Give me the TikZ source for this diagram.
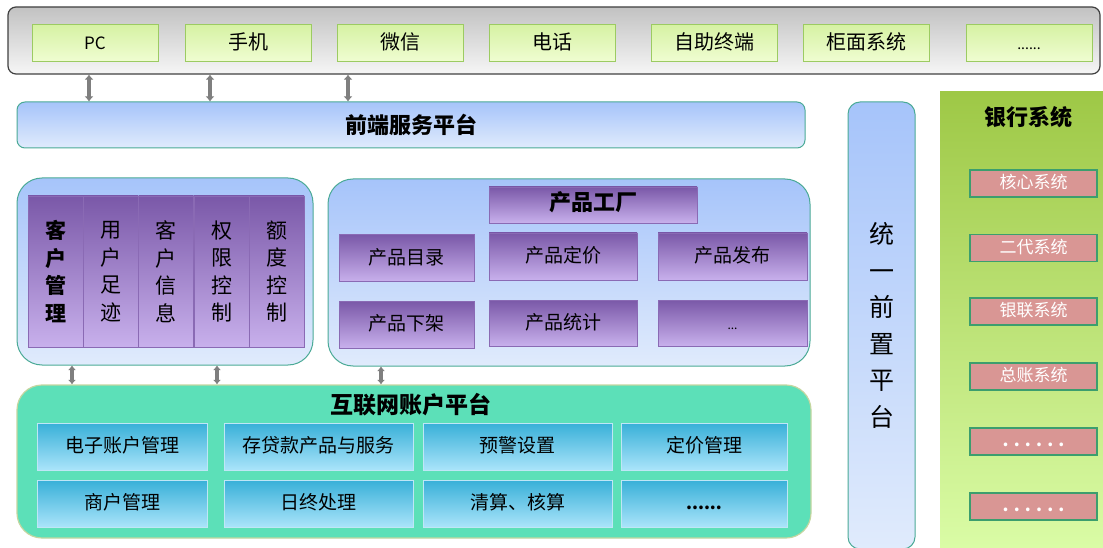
\documentclass[tikz,border=0pt]{standalone}
\usepackage{fontspec}
\setmainfont{Noto Sans CJK SC}
\usetikzlibrary{arrows.meta}
\definecolor{bartop}{HTML}{C2C2C2}
\definecolor{barbot}{HTML}{F6F6F6}
\definecolor{chantop}{HTML}{D6F2A4}
\definecolor{chanbot}{HTML}{F0FDD2}
\definecolor{chanline}{HTML}{9CCB62}
\definecolor{bluetop}{HTML}{A6C4FA}
\definecolor{bluebot}{HTML}{E0EBFC}
\definecolor{tealline}{HTML}{4AAA96}
\definecolor{purtop}{HTML}{7A58A8}
\definecolor{purbot}{HTML}{C8B0EC}
\definecolor{purline}{HTML}{8A6AB4}
\definecolor{minttop}{HTML}{5CE0B8}
\definecolor{mintline}{HTML}{C4D6A0}
\definecolor{cyantop}{HTML}{38B0D8}
\definecolor{cyanbot}{HTML}{AAE4FA}
\definecolor{cyanline}{HTML}{BFE6F6}
\definecolor{banktop}{HTML}{9EC846}
\definecolor{bankbot}{HTML}{DAFCA6}
\definecolor{sysfill}{HTML}{D99694}
\definecolor{sysline}{HTML}{3C9E6E}
\definecolor{linkgray}{HTML}{7F7F7F}
\begin{document}
\begin{tikzpicture}[x=1pt,y=-1pt,
  chan/.style={draw=chanline,line width=1pt,top color=chantop,bottom color=chanbot,
    minimum width=126pt,minimum height=37pt,inner sep=0pt,text height=15pt,text depth=3pt,
    font=\fontsize{20}{24}\selectfont},
  panel/.style={draw=tealline,line width=1pt,top color=bluetop,bottom color=bluebot,inner sep=0pt},
  purbox/.style={draw=purline,line width=.8pt,top color=purtop,bottom color=purbot,inner sep=0pt,
    text height=15pt,text depth=3pt,font=\fontsize{19}{23}\selectfont},
  col/.style={draw=purline,line width=.8pt,top color=purtop,bottom color=purbot,inner sep=0pt,
    minimum width=55pt,minimum height=151pt,align=center,font=\fontsize{21}{27.5}\selectfont},
  cyanbox/.style={draw=cyanline,line width=.8pt,top color=cyantop,bottom color=cyanbot,
    minimum height=47pt,inner sep=0pt,text height=15pt,text depth=3pt,font=\fontsize{19}{23}\selectfont},
  sys/.style={draw=sysline,line width=1.2pt,fill=sysfill,text=white,minimum width=127pt,
    minimum height=27pt,inner sep=0pt,text height=13pt,text depth=3pt,font=\fontsize{17}{20}\selectfont},
  title/.style={font=\fontsize{22}{26}\selectfont\bfseries},
  link/.style={draw=linkgray,line width=4.5pt,{Latex[length=5pt,width=9pt]}-{Latex[length=5pt,width=9pt]}},
  shortlink/.style={draw=linkgray,line width=4pt,{Latex[length=4.5pt,width=8pt]}-{Latex[length=4.5pt,width=8pt]}}]
\useasboundingbox (0,0) rectangle (1103,548);
% channels
\node[draw=black!75,line width=1.2pt,rounded corners=8pt,top color=bartop,bottom color=barbot,
  minimum width=1092pt,minimum height=67pt,inner sep=0pt] (bar) at (554,40.5) {};
\node[chan,font=\fontsize{17}{20}\selectfont] (pc) at (95,43.5) {PC};
\node[chan] (phone) at (248,43.5) {手机};
\node[chan] (wechat) at (400,43.5) {微信};
\node[chan] (tel) at (552,43.5) {电话};
\node[chan] (atm) at (714,43.5) {自助终端};
\node[chan] (counter) at (866,43.5) {柜面系统};
\node[chan,font=\fontsize{14}{16}\selectfont] (chanmore) at (1029,43.5) {......};
% front platform
\node[panel,rounded corners=8pt,minimum width=788pt,minimum height=46pt,title] (front) at (411,125) {前端服务平台};
\draw[link] (89,0 |- bar.south) -- (89,0 |- front.north);
\draw[link] (210,0 |- bar.south) -- (210,0 |- front.north);
\draw[link] (348,0 |- bar.south) -- (348,0 |- front.north);
% customer management
\node[panel,rounded corners=25pt,minimum width=296pt,minimum height=187pt] (cust) at (165,271.5) {};
\node[col,font=\fontsize{21}{27.5}\selectfont\bfseries] (c1) at (55.5,271.5) {客\\户\\管\\理};
\node[col] (c2) at (110.5,271.5) {用\\户\\足\\迹};
\node[col] (c3) at (166,271.5) {客\\户\\信\\息};
\node[col] (c4) at (221.5,271.5) {权\\限\\控\\制};
\node[col] (c5) at (276.5,271.5) {额\\度\\控\\制};
% product factory
\node[panel,rounded corners=25pt,minimum width=482pt,minimum height=187pt] (prod) at (569,272.5) {};
\node[purbox,title,minimum width=208pt,minimum height=36pt] (factory) at (593,205) {产品工厂};
\node[purbox,minimum width=135pt,minimum height=47pt] (catalog) at (406.5,258) {产品目录};
\node[purbox,minimum width=148pt,minimum height=47pt] (pricing) at (563,256.5) {产品定价};
\node[purbox,minimum width=149pt,minimum height=47pt] (release) at (732.5,256.5) {产品发布};
\node[purbox,minimum width=135pt,minimum height=47pt] (offshelf) at (406.5,324.5) {产品下架};
\node[purbox,minimum width=148pt,minimum height=46pt] (stats) at (563,323) {产品统计};
\node[purbox,minimum width=149pt,minimum height=46pt,font=\fontsize{12}{14}\selectfont] (prodmore) at (732.5,323) {...};
% account platform
\node[draw=mintline,line width=1.2pt,fill=minttop,rounded corners=25pt,minimum width=794pt,
  minimum height=153pt,inner sep=0pt] (acct) at (414,461.5) {};
\node[title,font=\fontsize{23}{26}\selectfont\bfseries] (accttitle) at (411,405) {互联网账户平台};
\node[cyanbox,minimum width=170pt] (eacct) at (122,446.5) {电子账户管理};
\node[cyanbox,minimum width=189pt] (loan) at (318.5,446.5) {存贷款产品与服务};
\node[cyanbox,minimum width=189pt] (alert) at (517.5,446.5) {预警设置};
\node[cyanbox,minimum width=166pt] (price) at (704,446.5) {定价管理};
\node[cyanbox,minimum width=170pt] (merchant) at (122,503.5) {商户管理};
\node[cyanbox,minimum width=189pt] (eod) at (318.5,503.5) {日终处理};
\node[cyanbox,minimum width=189pt] (clear) at (517.5,503.5) {清算、核算};
\node[cyanbox,minimum width=166pt,font=\fontsize{17}{20}\selectfont\bfseries] (acctmore) at (704,503.5) {......};
\draw[shortlink] (72,0 |- cust.south) -- (72,0 |- acct.north);
\draw[shortlink] (217,0 |- cust.south) -- (217,0 |- acct.north);
\draw[shortlink] (381,0 |- prod.south) -- (381,0 |- acct.north);
% unified front-end
\node[panel,rounded corners=12pt,minimum width=67pt,minimum height=447pt,align=center,
  font=\fontsize{25}{36.5}\selectfont] (pre) at (881.5,325.5) {统\\一\\前\\置\\平\\台};
% bank systems
\node[top color=banktop,bottom color=bankbot,minimum width=163pt,minimum height=456pt,inner sep=0pt] (bank) at (1021.5,320) {};
\node[title] (banktitle) at (1028,117) {银行系统};
\node[sys] (core) at (1033.5,183.5) {核心系统};
\node[sys] (cnaps) at (1033.5,248) {二代系统};
\node[sys] (unionpay) at (1033.5,311.5) {银联系统};
\node[sys] (ledger) at (1033.5,376.5) {总账系统};
\node[sys,font=\fontsize{17}{20}\selectfont\bfseries] (sysmore) at (1033.5,441.5) {. . . . . .};
\node[sys,font=\fontsize{17}{20}\selectfont\bfseries] (sysmore2) at (1033.5,506.5) {. . . . . .};
\end{tikzpicture}
\end{document}
